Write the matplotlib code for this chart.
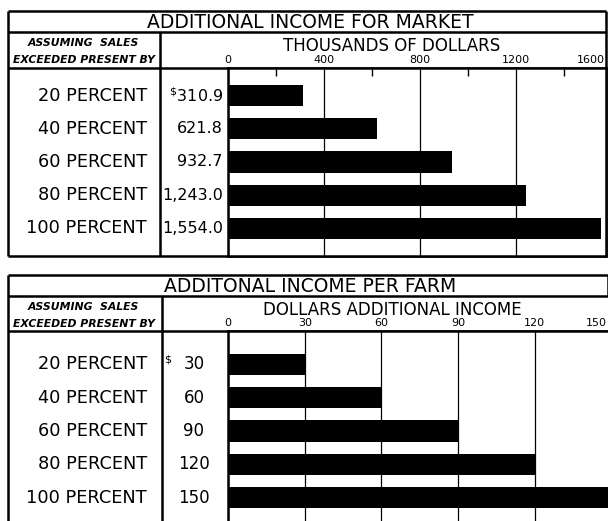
import matplotlib.pyplot as plt
from matplotlib.transforms import blended_transform_factory

# data
rows = ['20 PERCENT', '40 PERCENT', '60 PERCENT', '80 PERCENT', '100 PERCENT']
market_income = [310.9, 621.8, 932.7, 1243.0, 1554.0]
market_labels = [r'$^{\$}$310.9', '621.8', '932.7', '1,243.0', '1,554.0']
market_ticks = [0, 400, 800, 1200]
farm_income = [30, 60, 90, 120, 150]
farm_labels = ['30', '60', '90', '120', '150']
farm_ticks = [0, 30, 60, 90, 120]

W, H = 608, 521
fig = plt.figure(figsize=(W / 100, H / 100), dpi=100)
plt.rcParams['font.family'] = 'DejaVu Sans'

# background axes in pixel coords for the table lines and text
bg = fig.add_axes([0, 0, 1, 1])
bg.set_xlim(0, W)
bg.set_ylim(H, 0)
bg.axis('off')


def frac(x0, x1, y0, y1):
    return [x0 / W, 1 - y1 / H, (x1 - x0) / W, (y1 - y0) / H]


def line(x, y, lw=1.8):
    bg.plot(x, y, color='black', lw=lw, solid_capstyle='butt', zorder=5)


def panel(top, title, axis_title, col_x, bottom, right, values, labels, ticks,
          xmax, last_tick, ylim, value_style):
    title_line = top + 21
    head_line = top + 57 if top < 100 else top + 56
    # frame and dividers
    line([8, 8], [top, bottom])
    line([8, right], [top, top])
    line([8, right], [title_line, title_line])
    line([8, right], [head_line, head_line])
    line([col_x, col_x], [title_line, bottom])
    if bottom < H:
        line([8, right], [bottom, bottom])
        line([right, right], [top, bottom])
    else:
        line([right, right], [top, title_line])
    bg.text(310, (top + title_line) / 2 + 1, title, fontsize=13.5,
            ha='center', va='center')
    bg.text(83, title_line + 11, 'ASSUMING  SALES', fontsize=7.8,
            style='italic', weight='bold', ha='center', va='center')
    bg.text(84, title_line + 28, 'EXCEEDED PRESENT BY', fontsize=7.8,
            style='italic', weight='bold', ha='center', va='center')
    bg.text(392, title_line + 14, axis_title, fontsize=12,
            ha='center', va='center')
    # last tick label sits at the clipped right edge
    bg.text(min(right, W) - 1, head_line - 8, last_tick, fontsize=8,
            ha='right', va='center')

    ax = fig.add_axes(frac(228, min(right, W), head_line, bottom))
    ax.barh(range(len(values)), values, height=0.64, color='black', zorder=3)
    ax.set_xlim(0, xmax)
    ax.set_ylim(*ylim)
    ax.set_yticks([])
    ax.xaxis.tick_top()
    ax.set_xticks(ticks)
    ax.set_xticklabels([str(t) for t in ticks], fontsize=8)
    ax.tick_params(axis='x', length=0, pad=2)
    ax.grid(axis='x', color='black', lw=0.9)
    for s in ax.spines.values():
        s.set_linewidth(1.8)
    ax.spines['bottom'].set_visible(bottom < H)
    ax.spines['right'].set_visible(right < W)
    if top < 100:
        ax.set_xticks([200, 600, 1000, 1400], minor=True)
        ax.tick_params(axis='x', which='minor', length=6, width=1,
                       direction='in')

    tr = blended_transform_factory(bg.transData, ax.transData)
    for i, r in enumerate(rows):
        bg.text(147, i, r, transform=tr, fontsize=12.8, ha='right',
                va='center')
        if value_style == 'right':
            bg.text(223, i, labels[i], transform=tr, fontsize=11.5,
                    ha='right', va='center')
        else:
            bg.text(194, i, labels[i], transform=tr, fontsize=12,
                    ha='center', va='center')
    if value_style != 'right':
        bg.text(168, 0 - 0.15, r'$\$$', transform=tr, fontsize=8,
                ha='center', va='center')
    return ax


panel(11, 'ADDITIONAL INCOME FOR MARKET', 'THOUSANDS OF DOLLARS', 160, 256,
      606, market_income, market_labels, market_ticks, 1575, '1600',
      (4.83, -0.83), 'right')
panel(275, 'ADDITONAL INCOME PER FARM', 'DOLLARS ADDITIONAL INCOME', 162, H,
      W, farm_income, farm_labels, farm_ticks, 148.6, '150',
      (4.7, -1.0), 'center')

fig.savefig('out.png', dpi=100)
